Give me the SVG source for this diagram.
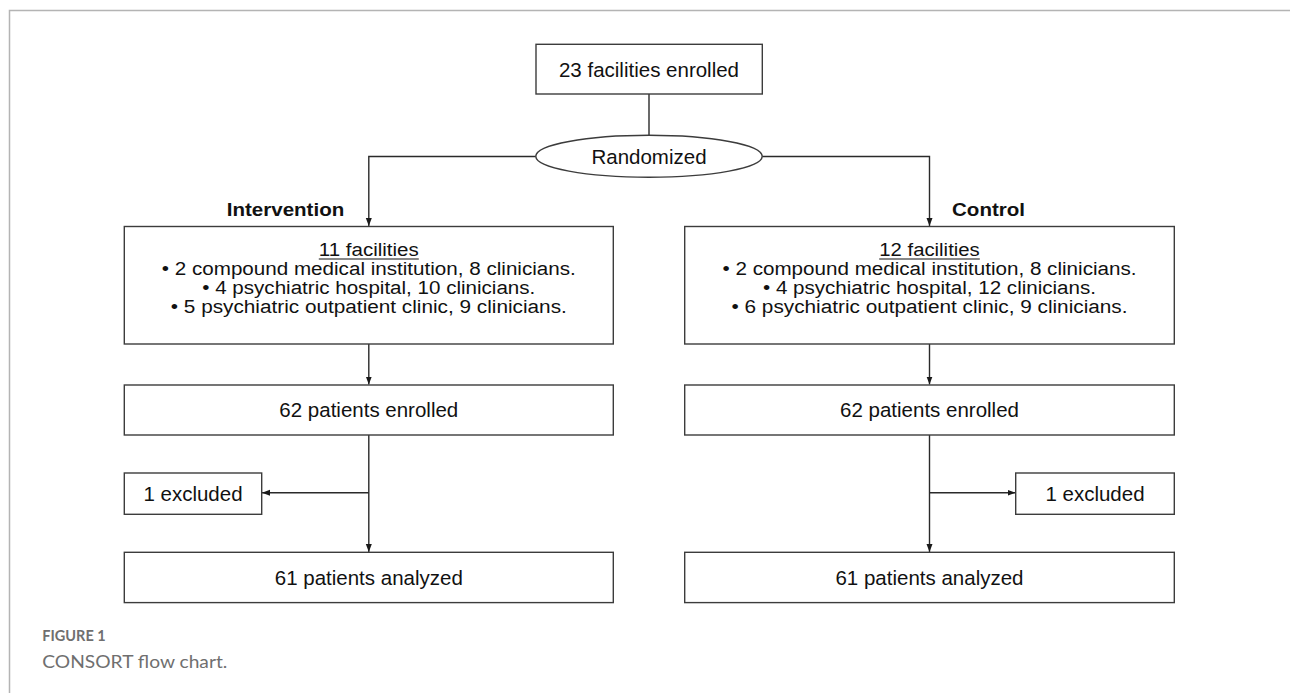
<svg xmlns="http://www.w3.org/2000/svg" width="1290" height="693" viewBox="0 0 1290 693">
<defs>
<marker id="ah" markerUnits="userSpaceOnUse" markerWidth="8" markerHeight="8" viewBox="0 0 8 6" refX="8" refY="3" orient="auto">
<path d="M0,0 L8,3 L0,6 Z" fill="#1a1a1a"/>
</marker>
<style>
.box{fill:#ffffff;stroke:#3c3c3c;stroke-width:1.4}
.t{font-family:"Liberation Sans",Arial,sans-serif;font-size:20.5px;fill:#111111;text-anchor:middle}
.s{font-family:"Liberation Sans",Arial,sans-serif;font-size:18px;fill:#111111;text-anchor:middle}
.b{font-family:"Liberation Sans",Arial,sans-serif;font-size:18px;font-weight:bold;fill:#111111}
.c{fill:none;stroke:#2a2a2a;stroke-width:1.4}
.frame{fill:none;stroke:#b4b4b4;stroke-width:1.5}
.cap1{font-family:Lato,"Open Sans",sans-serif;font-size:14.5px;font-weight:bold;fill:#6f6f6f}
.cap2{font-family:Lato,"Open Sans",sans-serif;font-size:17.5px;fill:#6f6f6f}
</style>
</defs>
<rect width="1290" height="693" fill="#ffffff"/>
<path class="frame" d="M1290,10.5 H9.5 V693"/>

<g id="connectors">
<path class="c" d="M649,94 V135"/>
<path class="c" d="M536,156.5 H368.8 V226" marker-end="url(#ah)"/>
<path class="c" d="M762,156.5 H929.5 V226" marker-end="url(#ah)"/>
<path class="c" d="M368.8,344 V384.5" marker-end="url(#ah)"/>
<path class="c" d="M929.5,344 V384.5" marker-end="url(#ah)"/>
<path class="c" d="M368.8,435 V552" marker-end="url(#ah)"/>
<path class="c" d="M929.5,435 V552" marker-end="url(#ah)"/>
<path class="c" d="M368.8,492.7 H262" marker-end="url(#ah)"/>
<path class="c" d="M929.5,492.7 H1015.5" marker-end="url(#ah)"/>
</g>

<g id="enrolled">
<rect class="box" x="536" y="44.3" width="226.3" height="49.7"/>
<text class="t" x="649" y="76.8">23 facilities enrolled</text>
</g>

<g id="randomized">
<ellipse class="box" cx="649" cy="156.3" rx="113.2" ry="21"/>
<text class="t" x="649" y="163.5">Randomized</text>
</g>

<g id="label-intervention">
<text class="b" x="226.7" y="216" textLength="117.6" lengthAdjust="spacingAndGlyphs">Intervention</text>
</g>
<g id="label-control">
<text class="b" x="952" y="216" textLength="73" lengthAdjust="spacingAndGlyphs">Control</text>
</g>

<g id="intervention-facilities">
<rect class="box" x="124.3" y="226.5" width="489" height="117.5"/>
<text class="s" x="368.8" y="256" textLength="100" lengthAdjust="spacingAndGlyphs">11 facilities</text>
<line x1="318.8" y1="259" x2="418.8" y2="259" stroke="#111111" stroke-width="1.1"/>
<text class="s" x="368.8" y="275" textLength="414" lengthAdjust="spacingAndGlyphs">• 2 compound medical institution, 8 clinicians.</text>
<text class="s" x="368.8" y="294" textLength="333" lengthAdjust="spacingAndGlyphs">• 4 psychiatric hospital, 10 clinicians.</text>
<text class="s" x="368.8" y="313" textLength="396" lengthAdjust="spacingAndGlyphs">• 5 psychiatric outpatient clinic, 9 clinicians.</text>
</g>

<g id="control-facilities">
<rect class="box" x="684.7" y="226.5" width="489.6" height="117.5"/>
<text class="s" x="929.5" y="256" textLength="100.5" lengthAdjust="spacingAndGlyphs">12 facilities</text>
<line x1="879.2" y1="259" x2="979.8" y2="259" stroke="#111111" stroke-width="1.1"/>
<text class="s" x="929.5" y="275" textLength="414" lengthAdjust="spacingAndGlyphs">• 2 compound medical institution, 8 clinicians.</text>
<text class="s" x="929.5" y="294" textLength="333" lengthAdjust="spacingAndGlyphs">• 4 psychiatric hospital, 12 clinicians.</text>
<text class="s" x="929.5" y="313" textLength="396" lengthAdjust="spacingAndGlyphs">• 6 psychiatric outpatient clinic, 9 clinicians.</text>
</g>

<g id="intervention-patients">
<rect class="box" x="124.3" y="385" width="489" height="50"/>
<text class="t" x="368.8" y="417">62 patients enrolled</text>
</g>
<g id="control-patients">
<rect class="box" x="684.7" y="385" width="489.6" height="50"/>
<text class="t" x="929.5" y="417">62 patients enrolled</text>
</g>

<g id="intervention-excluded">
<rect class="box" x="124.3" y="473" width="137.4" height="41.3"/>
<text class="t" x="193" y="500.7">1 excluded</text>
</g>
<g id="control-excluded">
<rect class="box" x="1015.7" y="473" width="158.6" height="41.3"/>
<text class="t" x="1095" y="500.7">1 excluded</text>
</g>

<g id="intervention-analyzed">
<rect class="box" x="124.3" y="552.3" width="489" height="50.3"/>
<text class="t" x="368.8" y="584.8">61 patients analyzed</text>
</g>
<g id="control-analyzed">
<rect class="box" x="684.7" y="552.3" width="489.6" height="50.3"/>
<text class="t" x="929.5" y="584.8">61 patients analyzed</text>
</g>

<g id="caption">
<text class="cap1" x="42.3" y="641">FIGURE 1</text>
<text class="cap2" x="42.3" y="668" textLength="185" lengthAdjust="spacingAndGlyphs">CONSORT flow chart.</text>
</g>
</svg>
